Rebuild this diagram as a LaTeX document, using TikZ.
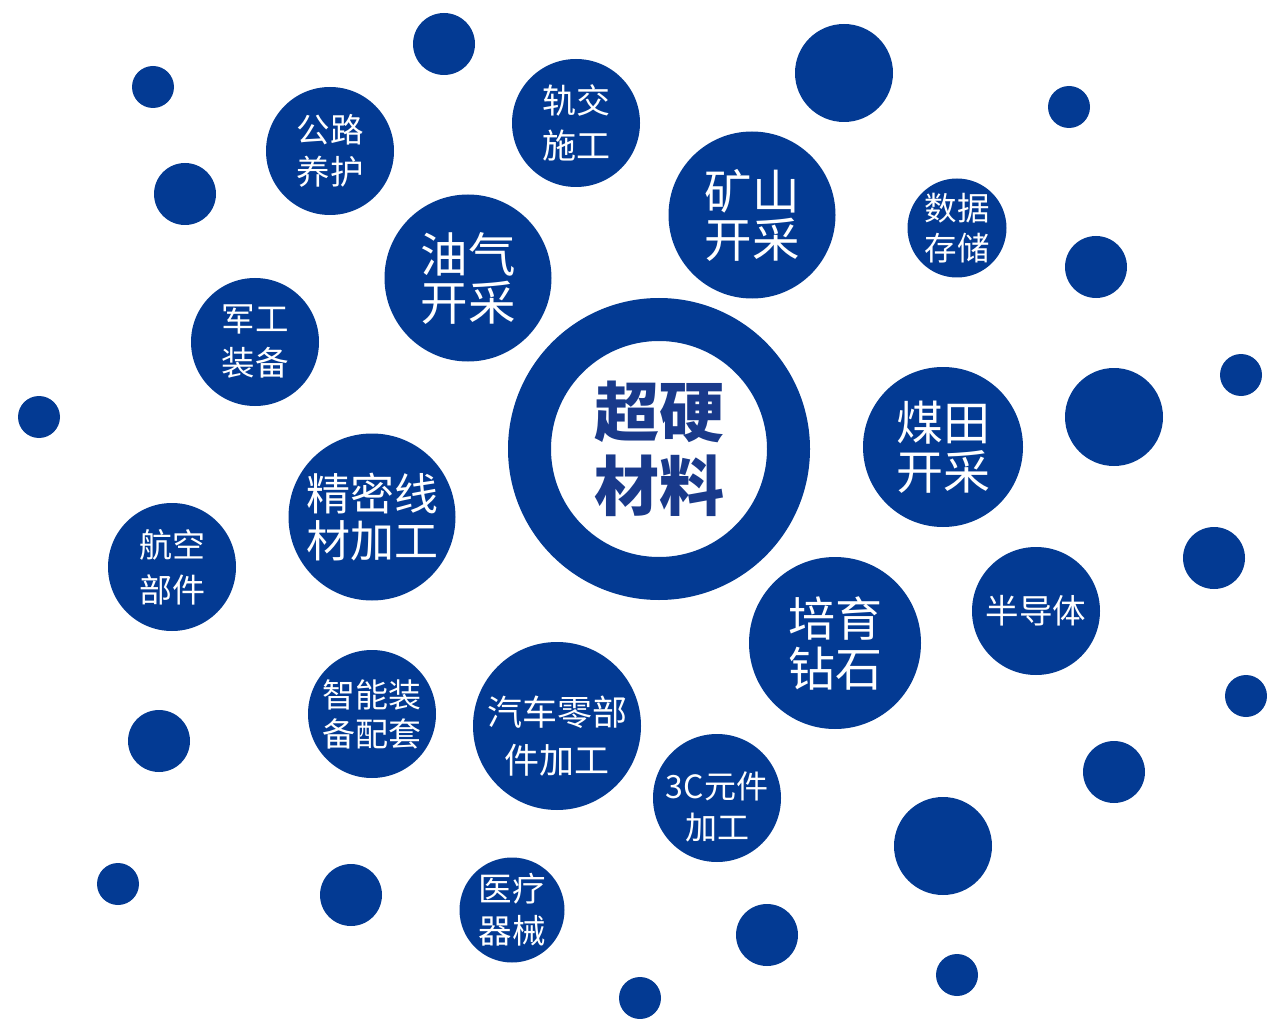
\documentclass[tikz,border=0pt]{standalone}
\usepackage{fontspec}
\newfontfamily\cjk{Noto Sans CJK SC}
\definecolor{bblue}{HTML}{033A93}
\definecolor{tblue}{HTML}{193A8B}
\newcommand\fsz[2]{\fontsize{#1}{#2}\selectfont\cjk}
\tikzset{
  bub/.style={circle, fill=bblue, inner sep=0pt, text=white, align=center, minimum size=#1},
  bluedot/.style={circle, fill=bblue, inner sep=0pt, minimum size=#1},
  wlabel/.style={inner sep=0pt, text=white, align=center},
}
\begin{document}
\begin{tikzpicture}[x=1pt,y=-1pt]
\useasboundingbox (0,0) rectangle (1267,1019);
% central ring
\node[circle, draw=bblue, line width=43pt, minimum size=259pt, inner sep=0pt,
      text=tblue, align=center, font=\fsz{65}{74}\bfseries] (core) at (659,449) {超硬\\材料};
% text bubbles
\node[bub=128pt, font=\fsz{33.5}{42}] (gl) at (330,151) {公路\\养护};
\node[bub=128pt, font=\fsz{34}{45}] (gj) at (576,123) {轨交\\施工};
\node[bub=167pt, font=\fsz{47.5}{48}] (ks) at (752,215) {矿山\\开采};
\node[bub=167pt, font=\fsz{47.5}{48}] (yq) at (468,278) {油气\\开采};
\node[bub=99pt, font=\fsz{32.5}{40}] (sj) at (957,228) {数据\\存储};
\node[bub=128pt, font=\fsz{33.5}{44}] (jg) at (255,342) {军工\\装备};
\node[bub=160pt, font=\fsz{47}{49}] (mt) at (943,447) {煤田\\开采};
\node[bub=167pt, font=\fsz{44}{47}] (jm) at (372,517) {精密线\\材加工};
\node[bub=128pt, font=\fsz{33}{45}] (hk) at (172,567) {航空\\部件};
\node[bub=172pt, font=\fsz{47}{50}] (py) at (835,643) {培育\\钻石};
\node[bub=128pt, font=\fsz{33.5}{40}] (bd) at (1036,611) {半导体};
\node[bub=128pt, font=\fsz{33}{39}] (zn) at (372,714) {智能装\\备配套};
\node[bub=168pt] (qc) at (557,726) {};
\node[wlabel, font=\fsz{35}{48}] (qct) at (557,736) {汽车零部\\件加工};
\node[bub=128pt] (sc) at (717,798) {};
\node[wlabel, font=\fsz{32}{41}] (sct) at (717,807) {3C元件\\加工};
\node[bub=105pt, font=\fsz{33.5}{42}] (yl) at (512,910) {医疗\\器械};
% plain dots
\node[bluedot=62pt] (d1) at (444,44) {};
\node[bluedot=42pt] (d2) at (153,87) {};
\node[bluedot=62pt] (d3) at (185,194) {};
\node[bluedot=98pt] (d4) at (844,73) {};
\node[bluedot=42pt] (d5) at (1069,107) {};
\node[bluedot=62pt] (d6) at (1096,267) {};
\node[bluedot=42pt] (d7) at (1241,375) {};
\node[bluedot=98pt] (d8) at (1114,417) {};
\node[bluedot=42pt] (d9) at (39,417) {};
\node[bluedot=62pt] (d10) at (1214,558) {};
\node[bluedot=42pt] (d11) at (1246,696) {};
\node[bluedot=62pt] (d12) at (159,741) {};
\node[bluedot=62pt] (d13) at (1114,772) {};
\node[bluedot=98pt] (d14) at (943,846) {};
\node[bluedot=42pt] (d15) at (118,884) {};
\node[bluedot=62pt] (d16) at (351,895) {};
\node[bluedot=62pt] (d17) at (767,935) {};
\node[bluedot=42pt] (d18) at (640,998) {};
\node[bluedot=42pt] (d19) at (957,975) {};
\end{tikzpicture}
\end{document}
